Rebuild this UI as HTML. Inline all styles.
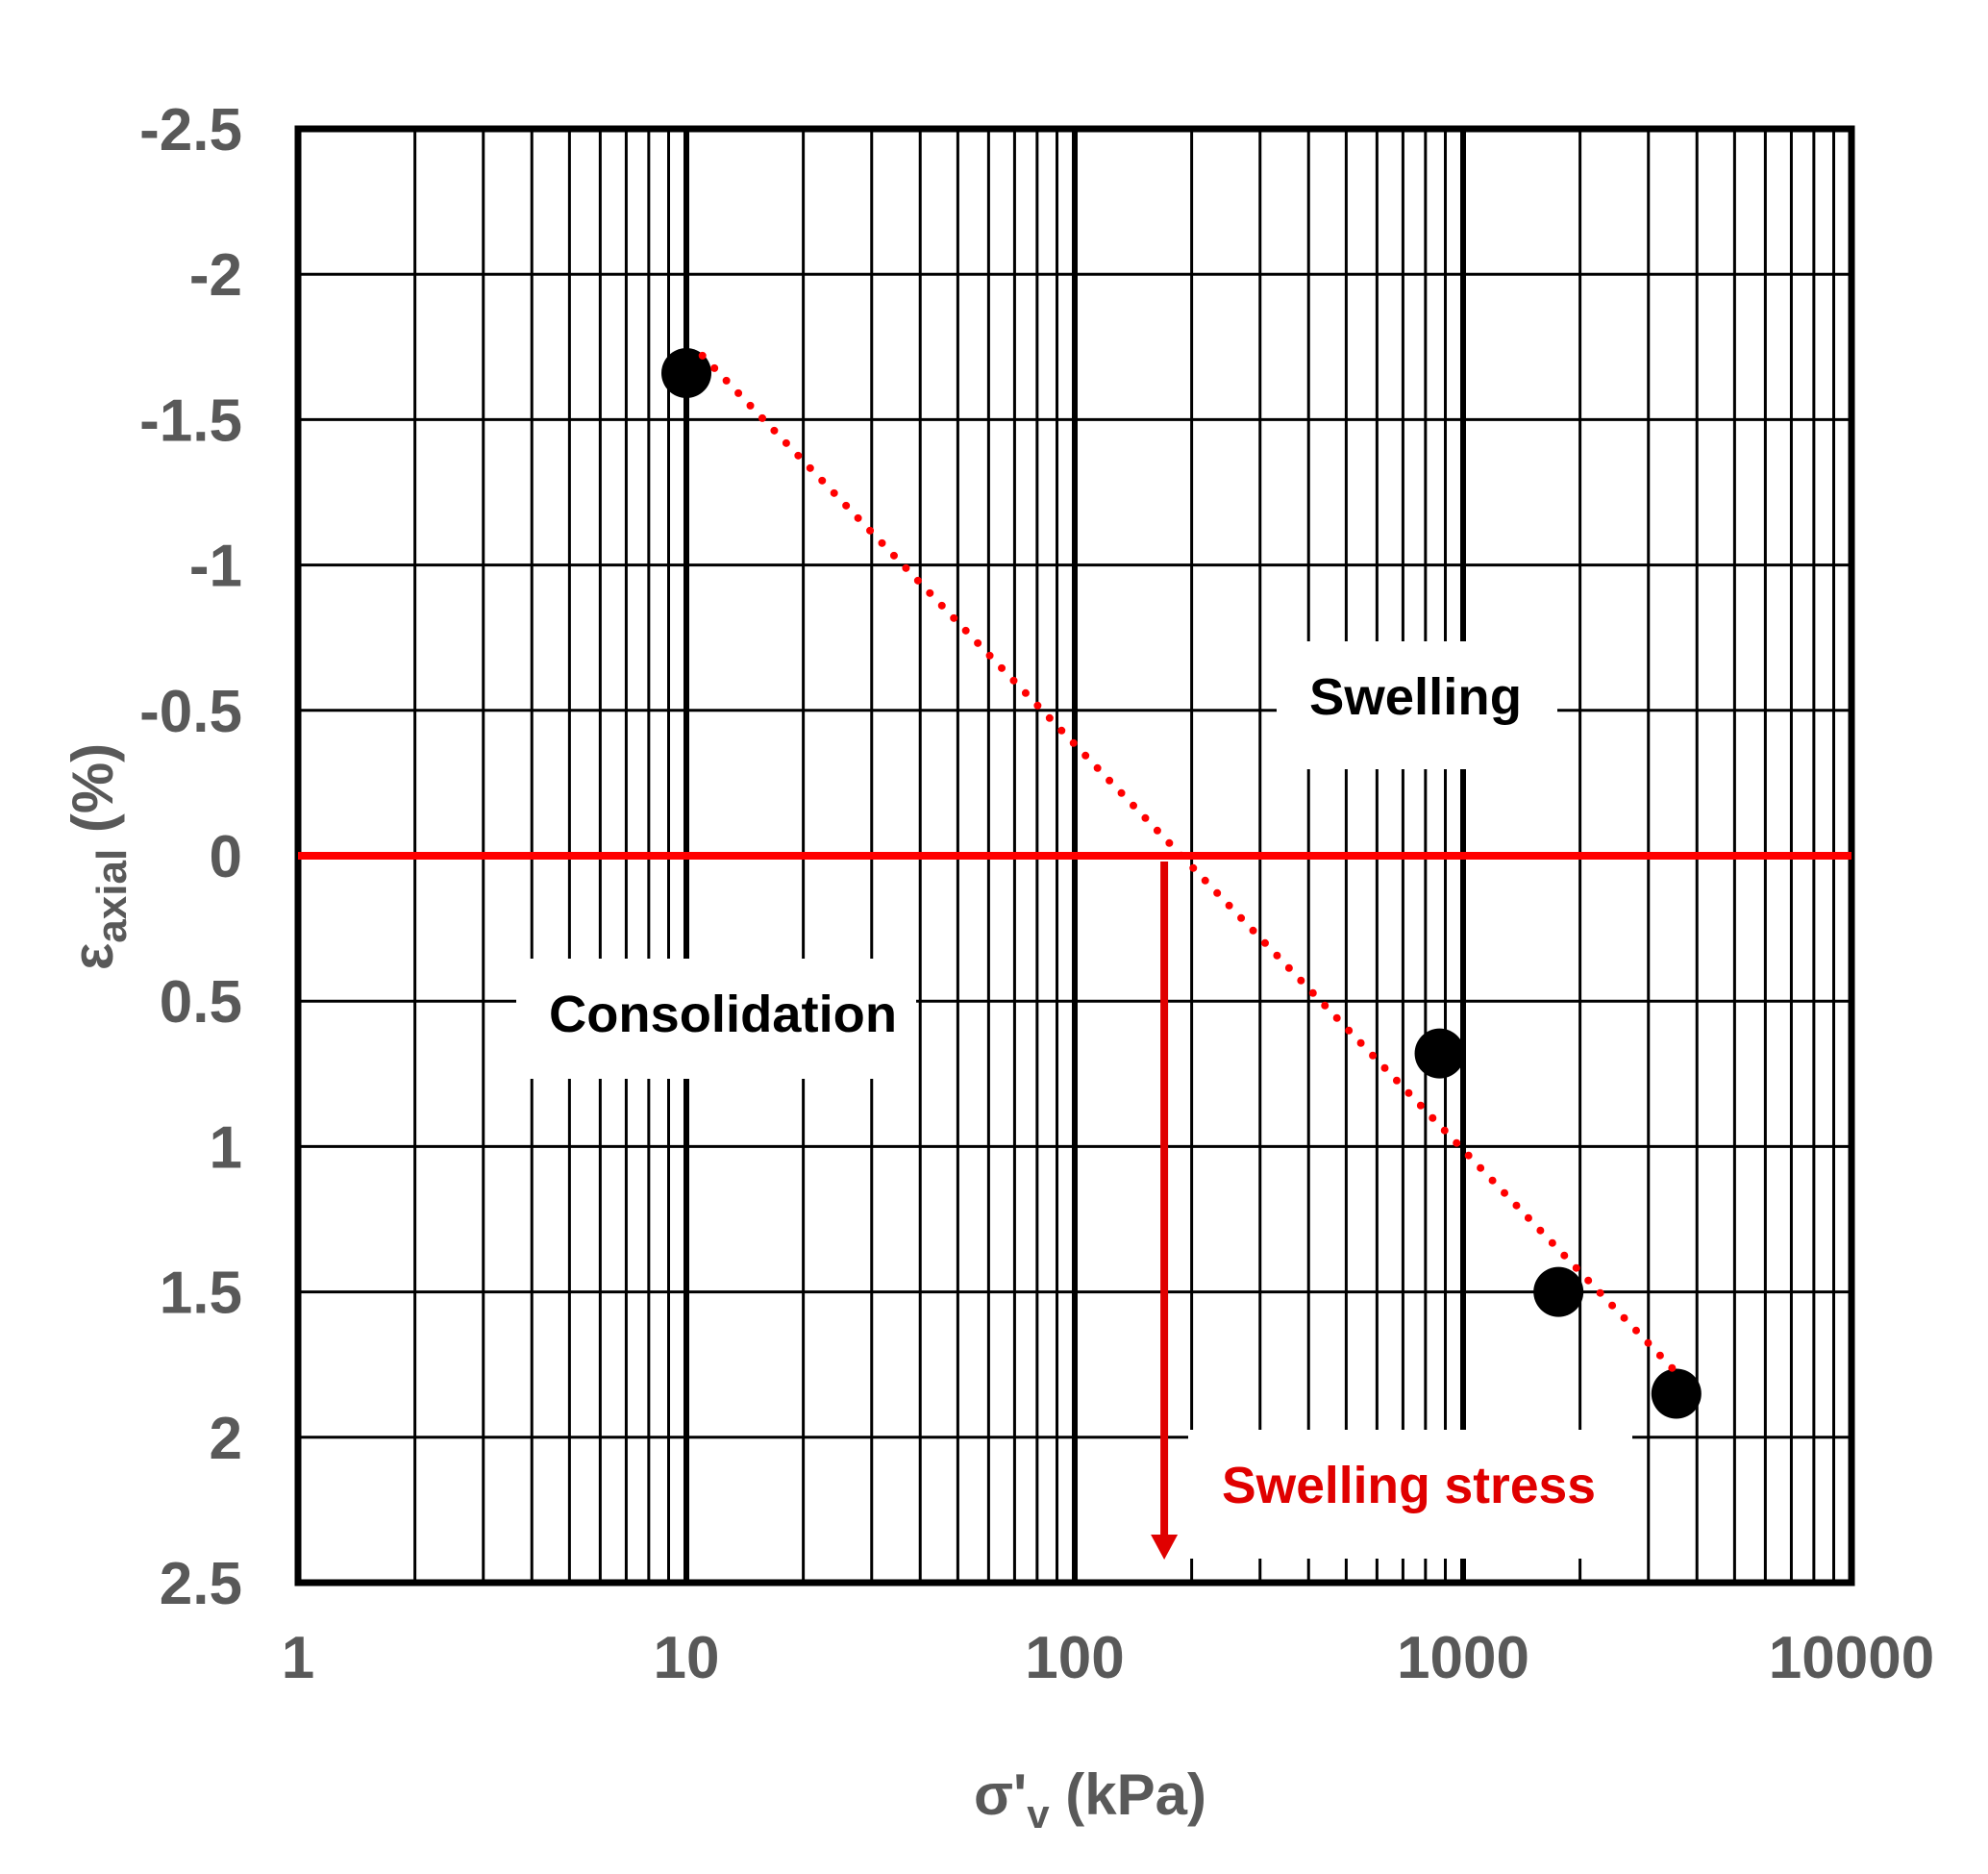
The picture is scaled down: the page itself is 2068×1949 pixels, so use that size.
<!DOCTYPE html>
<html><head><meta charset="utf-8"><style>
html,body{margin:0;padding:0;background:#fff}
svg{display:block}
text{font-family:"Liberation Sans",sans-serif;font-weight:bold}
</style></head><body>
<svg id="chart" width="2068" height="1949" viewBox="0 0 2068 1949" xmlns="http://www.w3.org/2000/svg">
<g id="grid"></g>
<g id="boxes"></g>
<g id="series"></g>
<g id="labels"></g>
<text x="1134" y="1887" text-anchor="middle" font-size="60" fill="#595959">σ'<tspan font-size="42" dy="14">v</tspan><tspan dy="-14"> (kPa)</tspan></text>
<text transform="translate(117,891) rotate(-90)" text-anchor="middle" font-size="60" fill="#595959">ε<tspan font-size="44" dy="14">axial</tspan><tspan dy="-14"> (%)</tspan></text>
</svg>
<script>
const xTicks=[1,10,100,1000,10000];
const xTickLabels=["1","10","100","1000","10000"];
const yTicks=[-2.5,-2,-1.5,-1,-0.5,0,0.5,1,1.5,2,2.5];
const yTickLabels=["-2.5","-2","-1.5","-1","-0.5","0","0.5","1","1.5","2","2.5"];
const pointsX=[10,870,1760,3540];
const pointsY=[-1.66,0.68,1.5,1.85];
const trendX=[11,3500];
const trendY=[-1.72,1.77];
const swellingStressX=[170];
const L=310,R=1926,T=134,B=1646;
const xs=v=>L+(Math.log10(v)-0)/4*(R-L);
const ys=v=>T+(v+2.5)/5*(B-T);
const NS="http://www.w3.org/2000/svg";
function mk(tag,attrs,parent){const e=document.createElementNS(NS,tag);for(const k in attrs)e.setAttribute(k,attrs[k]);parent.appendChild(e);return e;}
const grid=document.getElementById('grid');
// minor vertical lines
for(let d=0;d<4;d++){for(let m=1;m<=9;m++){const v=m*Math.pow(10,d);if(m===1&&d===0)continue;
 const ln=mk('line',{x1:xs(v),x2:xs(v),y1:T,y2:B,stroke:'#000','stroke-width':m===1?6:3},grid);
 
 }}
yTicks.forEach(v=>{if(v===-2.5||v===2.5)return;
 const ln=mk('line',{x1:L,x2:R,y1:ys(v),y2:ys(v),stroke:'#000','stroke-width':3},grid);
 
 });
const border=mk('rect',{x:L,y:T,width:R-L,height:B-T,fill:'none',stroke:'#000','stroke-width':7},grid);


// annotation boxes
const boxes=document.getElementById('boxes');
[[1328,667,292,133,'swelling-box'],[537,997,416,125,'consolidation-box'],[1236,1487,462,134,'swelling-stress-box']].forEach(b=>{
 const r=mk('rect',{x:b[0],y:b[1],width:b[2],height:b[3],fill:'#fff'},boxes);
 
 });
const t1=mk('text',{x:1362,y:743,'font-size':54,fill:'#000',textLength:221,lengthAdjust:'spacingAndGlyphs'},boxes);t1.textContent='Swelling';


const t2=mk('text',{x:571,y:1073,'font-size':54,fill:'#000',textLength:362,lengthAdjust:'spacingAndGlyphs'},boxes);t2.textContent='Consolidation';


const t3=mk('text',{x:1271,y:1563,'font-size':54,fill:'#e00000',textLength:389,lengthAdjust:'spacingAndGlyphs'},boxes);t3.textContent='Swelling stress';


// series
const s=document.getElementById('series');
const zl=mk('line',{x1:L,x2:R,y1:ys(0),y2:ys(0),stroke:'#ff0000','stroke-width':8},s);


const ax=xs(swellingStressX[0]);
const al=mk('line',{x1:ax,x2:ax,y1:ys(0)+6,y2:B-40,stroke:'#e00000','stroke-width':8},s);


const ah=mk('polygon',{points:`${ax-14},${B-50} ${ax+14},${B-50} ${ax},${B-24}`,fill:'#e00000'},s);


pointsX.forEach((v,i)=>{const c=mk('circle',{cx:xs(v),cy:ys(pointsY[i]),r:26,fill:'#000'},s);
 
 });
const tl=mk('line',{x1:xs(trendX[0]),y1:ys(trendY[0]),x2:xs(trendX[1]),y2:ys(trendY[1]),stroke:'#ff0000','stroke-width':8,'stroke-linecap':'round','stroke-dasharray':'0 18'},s);


// tick labels
const lab=document.getElementById('labels');
xTicks.forEach((v,i)=>{const t=mk('text',{x:xs(v),y:1745,'text-anchor':'middle','font-size':62,fill:'#595959'},lab);t.textContent=xTickLabels[i];
 
 });
yTicks.forEach((v,i)=>{const t=mk('text',{x:252,y:ys(v)+22,'text-anchor':'end','font-size':62,fill:'#595959'},lab);t.textContent=yTickLabels[i];
 
 });
</script>
</body></html>
